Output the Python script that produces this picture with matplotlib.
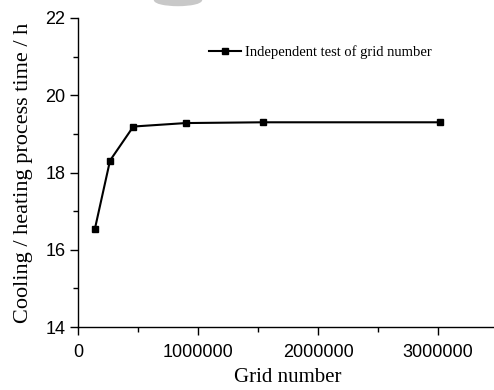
import matplotlib.pyplot as plt
from matplotlib.patches import Ellipse
from matplotlib.ticker import MultipleLocator

# grid independence check
grid_number = [140000, 267000, 461000, 897000, 1544000, 3017000]
process_time = [16.53, 18.31, 19.19, 19.28, 19.30, 19.30]

fig = plt.figure(figsize=(4.94, 3.90), dpi=100)
W, H = 494, 390
ax = fig.add_axes([78 / W, 1 - 327 / H, 420 / W, 309 / H])

ax.plot(grid_number, process_time, color="black", lw=1.5,
        marker="s", ms=5, label="Independent test of grid number")

ax.set_xlim(0, 3.5e6)
ax.set_ylim(14, 22)
ax.xaxis.set_major_locator(MultipleLocator(1e6))
ax.xaxis.set_minor_locator(MultipleLocator(5e5))
ax.yaxis.set_major_locator(MultipleLocator(2))
ax.yaxis.set_minor_locator(MultipleLocator(1))
ax.ticklabel_format(axis="x", style="plain", useOffset=False)

for s in ["top", "right"]:
    ax.spines[s].set_visible(False)
for s in ["left", "bottom"]:
    ax.spines[s].set_linewidth(1.0)

ax.tick_params(which="major", direction="out", length=6, width=1.0,
               labelsize=13, pad=3)
ax.tick_params(which="minor", direction="out", length=3.5, width=1.0)
ax.tick_params(axis="x", which="major", pad=6)
for lab in ax.get_xticklabels() + ax.get_yticklabels():
    lab.set_fontfamily("Liberation Sans")

ax.set_xlabel("Grid number", fontfamily="Liberation Serif", fontsize=15,
              labelpad=5)
ax.set_ylabel("Cooling / heating process time / h",
              fontfamily="Liberation Serif", fontsize=16, labelpad=9)

ax.legend(loc="upper left", bbox_to_anchor=(0.28, 0.955), frameon=False,
          handlelength=2.2, handletextpad=0.3,
          prop={"family": "Liberation Serif", "size": 10.5})

# faint grey smudge along the top edge
fig.patches.append(Ellipse((178 / W, 1.0), 47 / W, 11 / H,
                           transform=fig.transFigure, color="#c8c8c8",
                           zorder=0))

fig.savefig("out.png", dpi=100)
